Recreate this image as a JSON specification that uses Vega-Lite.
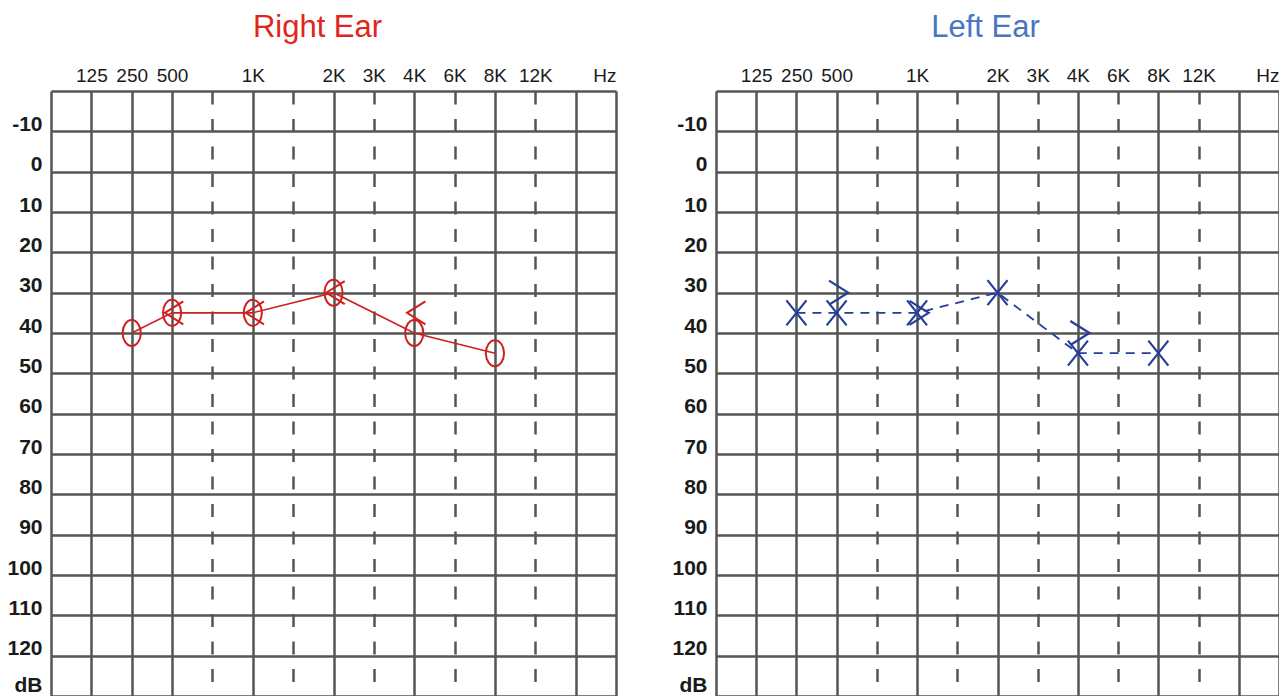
{
  "$schema": "https://vega.github.io/schema/vega-lite/v6.json",
  "background": "white",
  "padding": {"left": 6, "top": 12, "right": 0, "bottom": 0},
  "bounds": "flush",
  "spacing": 100,
  "config": {
    "view": {"stroke": null},
    "font": "Liberation Sans",
    "axisX": {
      "orient": "top",
      "domain": false,
      "ticks": false,
      "grid": true,
      "gridColor": "#555555",
      "gridWidth": 2.5,
      "gridDash": {"condition": {"test": "indexof(['750','1.5K','3K','6K','12K'], datum.value) >= 0", "value": [13, 14.5]}, "value": []},
      "labelExpr": "indexof(['0','750','1.5K','16K'], datum.value) >= 0 ? '' : datum.value",
      "labelAlign": {"condition": {"test": "datum.value === 'Hz'", "value": "right"}, "value": "center"},
      "labelAngle": 0,
      "labelFont": "Liberation Sans",
      "labelFontSize": 19,
      "labelColor": "#1a1a1a",
      "labelPadding": 6,
      "labelOverlap": false,
      "labelBound": false,
      "labelFlush": false,
      "title": null
    },
    "axisY": {
      "domain": false,
      "ticks": false,
      "grid": true,
      "gridColor": "#555555",
      "gridWidth": 2.5,
      "values": [-20, -10, 0, 10, 20, 30, 40, 50, 60, 70, 80, 90, 100, 110, 120, 130],
      "labelExpr": "datum.value == 130 ? 'dB' : (datum.value == -20 ? '' : '' + datum.value)",
      "labelBaseline": "alphabetic",
      "labelOffset": {"condition": {"test": "datum.value == 130", "value": -5}, "value": -1},
      "labelFont": "Liberation Sans",
      "labelFontSize": 21,
      "labelFontWeight": "bold",
      "labelColor": "#1a1a1a",
      "labelPadding": 9,
      "labelOverlap": false,
      "labelBound": false,
      "labelFlush": false,
      "title": null
    }
  },
  "datasets": {
    "audio": [
      {"ear": "Right", "kind": "AC", "freq": "250", "db": 40},
      {"ear": "Right", "kind": "AC", "freq": "500", "db": 35},
      {"ear": "Right", "kind": "AC", "freq": "1K", "db": 35},
      {"ear": "Right", "kind": "AC", "freq": "2K", "db": 30},
      {"ear": "Right", "kind": "AC", "freq": "4K", "db": 40},
      {"ear": "Right", "kind": "AC", "freq": "8K", "db": 45},
      {"ear": "Right", "kind": "BC", "freq": "500", "db": 35},
      {"ear": "Right", "kind": "BC", "freq": "1K", "db": 35},
      {"ear": "Right", "kind": "BC", "freq": "2K", "db": 30},
      {"ear": "Right", "kind": "BC", "freq": "4K", "db": 35},
      {"ear": "Left", "kind": "AC", "freq": "250", "db": 35},
      {"ear": "Left", "kind": "AC", "freq": "500", "db": 35},
      {"ear": "Left", "kind": "AC", "freq": "1K", "db": 35},
      {"ear": "Left", "kind": "AC", "freq": "2K", "db": 30},
      {"ear": "Left", "kind": "AC", "freq": "4K", "db": 45},
      {"ear": "Left", "kind": "AC", "freq": "8K", "db": 45},
      {"ear": "Left", "kind": "BC", "freq": "500", "db": 30},
      {"ear": "Left", "kind": "BC", "freq": "1K", "db": 35},
      {"ear": "Left", "kind": "BC", "freq": "4K", "db": 40}
    ]
  },
  "hconcat": [
    {
      "width": 565,
      "height": 605,
      "title": {"text": "Right Ear", "color": "#e0251b", "fontSize": 31, "fontWeight": "normal", "font": "Liberation Sans", "frame": "group", "anchor": "middle", "dx": -16, "offset": 22},
      "data": {"name": "audio"},
      "transform": [{"filter": "datum.ear === 'Right'"}],
      "encoding": {
        "x": {"field": "freq", "type": "ordinal", "sort": ["0", "125", "250", "500", "750", "1K", "1.5K", "2K", "3K", "4K", "6K", "8K", "12K", "16K", "Hz"], "scale": {"type": "point", "domain": ["0", "125", "250", "500", "750", "1K", "1.5K", "2K", "3K", "4K", "6K", "8K", "12K", "16K", "Hz"], "padding": 0}},
        "y": {"field": "db", "type": "quantitative", "scale": {"domain": [-20, 130], "reverse": true, "nice": false, "zero": false}}
      },
      "layer": [
        {"transform": [{"filter": "datum.kind === 'AC'"}], "mark": {"type": "line", "color": "#d11f1f", "strokeWidth": 1.6}},
        {"transform": [{"filter": "datum.kind === 'AC'"}], "mark": {"type": "point", "shape": "M0,-1A0.7,1,0,1,1,0,1A0.7,1,0,1,1,0,-1Z", "size": 676, "filled": false, "stroke": "#d11f1f", "strokeWidth": 2, "opacity": 1}},
        {"transform": [{"filter": "datum.kind === 'BC'"}], "mark": {"type": "point", "shape": "M0.8,-1L-0.8,0L0.8,1", "size": 529, "filled": false, "stroke": "#d11f1f", "strokeWidth": 2, "opacity": 1, "xOffset": 2}}
      ]
    },
    {
      "width": 563,
      "height": 605,
      "title": {"text": "Left Ear", "color": "#4a74c4", "fontSize": 31, "fontWeight": "normal", "font": "Liberation Sans", "frame": "group", "anchor": "middle", "dx": -12, "offset": 22},
      "data": {"name": "audio"},
      "transform": [{"filter": "datum.ear === 'Left'"}],
      "encoding": {
        "x": {"field": "freq", "type": "ordinal", "sort": ["0", "125", "250", "500", "750", "1K", "1.5K", "2K", "3K", "4K", "6K", "8K", "12K", "16K", "Hz"], "scale": {"type": "point", "domain": ["0", "125", "250", "500", "750", "1K", "1.5K", "2K", "3K", "4K", "6K", "8K", "12K", "16K", "Hz"], "padding": 0}},
        "y": {"field": "db", "type": "quantitative", "scale": {"domain": [-20, 130], "reverse": true, "nice": false, "zero": false}}
      },
      "layer": [
        {"transform": [{"filter": "datum.kind === 'AC'"}], "mark": {"type": "line", "color": "#263e99", "strokeWidth": 1.8, "strokeDash": [9, 7]}},
        {"transform": [{"filter": "datum.kind === 'AC'"}], "mark": {"type": "point", "shape": "M-0.8,-1L0.8,1M-0.8,1L0.8,-1", "size": 625, "filled": false, "stroke": "#263e99", "strokeWidth": 2.2, "opacity": 1}},
        {"transform": [{"filter": "datum.kind === 'BC'"}], "mark": {"type": "point", "shape": "M-0.8,-1L0.8,0L-0.8,1", "size": 576, "filled": false, "stroke": "#263e99", "strokeWidth": 2.2, "opacity": 1, "xOffset": 2}}
      ]
    }
  ]
}
